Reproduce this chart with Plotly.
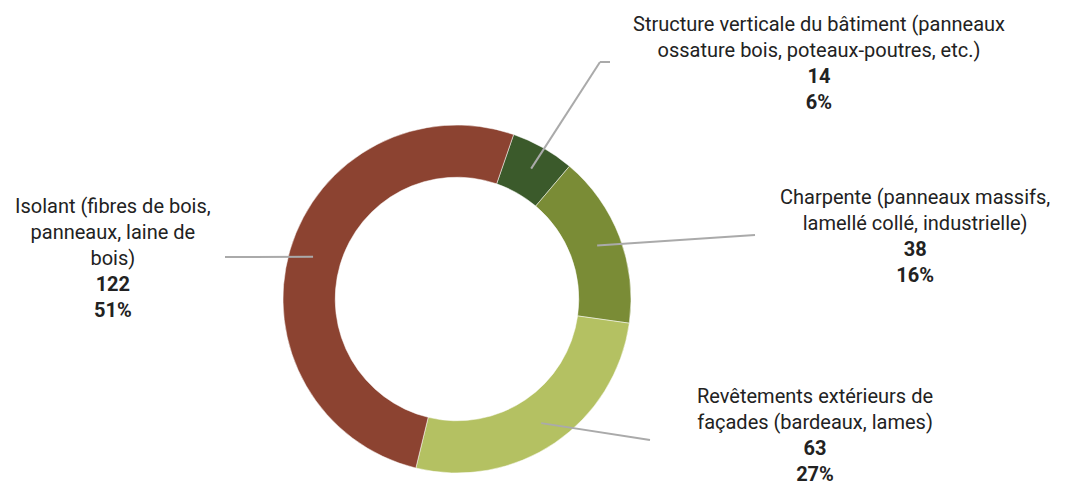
import math
import plotly.graph_objects as go

categories = [
    "Structure verticale du bâtiment (panneaux<br>ossature bois, poteaux-poutres, etc.)",
    "Charpente (panneaux massifs,<br>lamellé collé, industrielle)",
    "Revêtements extérieurs de<br>façades (bardeaux, lames)",
    "Isolant (fibres de bois,<br>panneaux, laine de<br>bois)",
]
values = [14, 38, 63, 122]
percent_labels = ["6%", "16%", "27%", "51%"]
colors = ["#3B5A2B", "#7A8C36", "#B4C162", "#8C4331"]

W, H = 1065, 488
cx, cy, R = 457, 299, 174          # page pixels
hole = 0.70
rotation = 19

label_pos = [(819, 63), (915, 236), (815, 435), (113, 258)]
leader_end = [[(600, 62), (610, 62)], [(755, 235)], [(650, 440)], [(225, 257)]]


def px(x, y):
    return x / W, 1 - y / H


x0d, y1d = px(cx - R, cy - R)
x1d, y0d = px(cx + R, cy + R)

fig = go.Figure(go.Pie(
    values=values,
    labels=[c.replace("<br>", " ") for c in categories],
    marker=dict(colors=colors, line=dict(color="white", width=0.5)),
    hole=hole, sort=False, direction="clockwise", rotation=rotation,
    textinfo="none", hoverinfo="skip", showlegend=False,
    domain=dict(x=[x0d, x1d], y=[y0d, y1d]),
))

total = sum(values)
start = rotation
shapes, annotations = [], []
for i, v in enumerate(values):
    mid = start + v / total * 360 / 2
    start += v / total * 360
    r = 150
    ax0 = cx + r * math.sin(math.radians(mid))
    ay0 = cy - r * math.cos(math.radians(mid))
    pts = [(ax0, ay0)] + leader_end[i]
    for (xa, ya), (xb, yb) in zip(pts[:-1], pts[1:]):
        X0, Y0 = px(xa, ya)
        X1, Y1 = px(xb, yb)
        shapes.append(dict(type="line", xref="paper", yref="paper", x0=X0, y0=Y0, x1=X1, y1=Y1,
                           line=dict(color="#AAAAAA", width=2)))
    lx, ly = label_pos[i]
    X, Y = px(lx, ly)
    annotations.append(dict(
        x=X, y=Y, xref="paper", yref="paper", xanchor="center", yanchor="middle",
        text=f"{categories[i]}<br><b>{v}</b><br><b>{percent_labels[i]}</b>",
        showarrow=False, align="center", borderpad=0,
        font=dict(family="Roboto, sans-serif", size=20, color="#222222"),
    ))

fig.update_layout(
    width=W, height=H, margin=dict(l=0, r=0, t=0, b=0),
    paper_bgcolor="white", plot_bgcolor="white",
    shapes=shapes, annotations=annotations,
)
fig.write_html(
    "out.html",
    config={"displayModeBar": False},
    post_script="document.body.style.margin='0';document.body.style.overflow='hidden';",
)
